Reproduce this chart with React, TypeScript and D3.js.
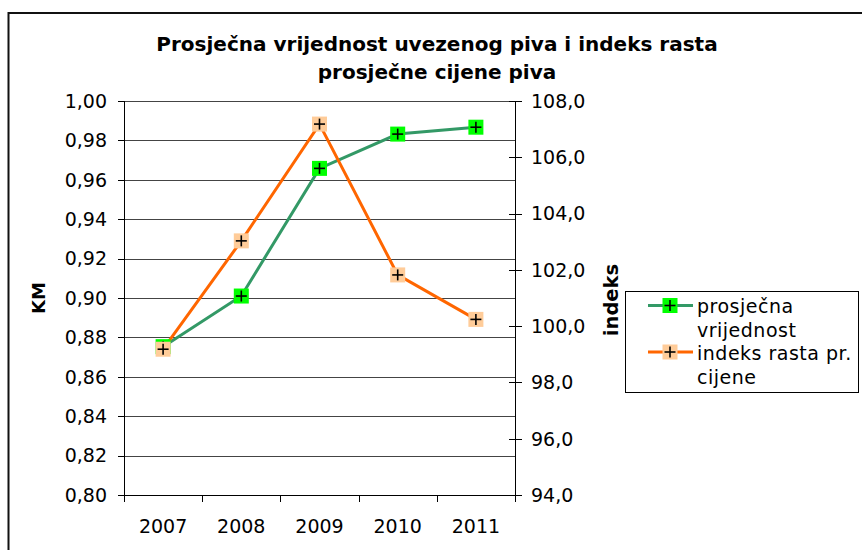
import React from "react";
import * as d3 from "d3";

const years = ["2007", "2008", "2009", "2010", "2011"];
const prosjecnaVrijednost = [0.8753, 0.901, 0.9658, 0.9832, 0.9867];
const indeksRasta = [99.18, 103.03, 107.18, 101.82, 100.24];
const leftTicks = [0.8, 0.82, 0.84, 0.86, 0.88, 0.9, 0.92, 0.94, 0.96, 0.98, 1.0];
const rightTicks = [94, 96, 98, 100, 102, 104, 106, 108];
const titleLines = ["Prosječna vrijednost uvezenog piva i indeks rasta", "prosječne cijene piva"];
const legendItems = [
  { lines: ["prosječna", "vrijednost"], stroke: "#339966", fill: "#00ff00" },
  { lines: ["indeks rasta pr.", "cijene"], stroke: "#ff6600", fill: "#ffcc99" },
];

const W = 862;
const H = 550;
const plot = { left: 124, right: 515, top: 101, bottom: 495 };
const FONT = "'DejaVu Sans', Verdana, sans-serif";

function Marker({ x, y, fill }: { x: number; y: number; fill: string }) {
  const s = 7.5;
  return (
    <g>
      <rect x={x - s} y={y - s} width={2 * s} height={2 * s} fill={fill} />
      <line x1={x - 5.5} x2={x + 5.5} y1={y} y2={y} stroke="#000" strokeWidth={1.6} />
      <line x1={x} x2={x} y1={y - 5.5} y2={y + 5.5} stroke="#000" strokeWidth={1.6} />
    </g>
  );
}

export default function App() {
  const x = d3.scaleBand<string>().domain(years).range([plot.left, plot.right]);
  const yL = d3.scaleLinear().domain([0.8, 1.0]).range([plot.bottom, plot.top]);
  const yR = d3.scaleLinear().domain([94, 108]).range([plot.bottom, plot.top]);
  const cx = (d: string) => (x(d) as number) + x.bandwidth() / 2;
  const fmtL = (v: number) => d3.format(".2f")(v).replace(".", ",");
  const fmtR = (v: number) => d3.format(".1f")(v).replace(".", ",");
  const px = (v: number) => Math.round(v) + 0.5;

  const lineL = d3
    .line<number>()
    .x((_, i) => cx(years[i]))
    .y((v) => yL(v));
  const lineR = d3
    .line<number>()
    .x((_, i) => cx(years[i]))
    .y((v) => yR(v));

  const boundaries = years.map((d) => x(d) as number).concat([plot.right]);

  return (
    <svg width={W} height={H} style={{ position: "absolute", left: 0, top: 0 }} fontFamily={FONT}>
      <rect x={0} y={0} width={W} height={H} fill="#fff" />
      <rect x={8.5} y={13} width={W + 20} height={H + 20} fill="#fff" stroke="#111" strokeWidth={2} />
      {titleLines.map((t, i) => (
        <text key={i} x={437} y={51 + i * 28} textAnchor="middle" fontSize={20} fontWeight="bold" fill="#000">
          {t}
        </text>
      ))}
      {/* gridlines */}
      {leftTicks.map((v) => (
        <line key={"g" + v} x1={plot.left} x2={plot.right} y1={px(yL(v))} y2={px(yL(v))} stroke={v === 0.8 ? "#000" : "#444"} strokeWidth={1} />
      ))}
      {/* left axis */}
      <line x1={plot.left + 0.5} x2={plot.left + 0.5} y1={plot.top} y2={plot.bottom + 7} stroke="#000" />
      {leftTicks.map((v) => (
        <g key={"l" + v}>
          <line x1={plot.left - 6} x2={plot.left} y1={px(yL(v))} y2={px(yL(v))} stroke="#000" />
          <text x={107} y={yL(v)} dy="0.36em" textAnchor="end" fontSize={19} fill="#000">
            {fmtL(v)}
          </text>
        </g>
      ))}
      {/* right axis */}
      <line x1={plot.right + 0.5} x2={plot.right + 0.5} y1={plot.top} y2={plot.bottom + 7} stroke="#000" />
      {rightTicks.map((v) => (
        <g key={"r" + v}>
          <line x1={plot.right - 6} x2={plot.right + 7} y1={px(yR(v))} y2={px(yR(v))} stroke="#000" />
          <text x={531} y={yR(v)} dy="0.36em" textAnchor="start" fontSize={19} fill="#000">
            {fmtR(v)}
          </text>
        </g>
      ))}
      {/* x axis */}
      <line x1={plot.left} x2={plot.right} y1={plot.bottom + 0.5} y2={plot.bottom + 0.5} stroke="#000" />
      {boundaries.map((b, i) => (
        <line key={"xt" + i} x1={px(b)} x2={px(b)} y1={plot.bottom} y2={plot.bottom + 7} stroke="#000" />
      ))}
      {years.map((d) => (
        <text key={"x" + d} x={cx(d)} y={533} textAnchor="middle" fontSize={19} fill="#000">
          {d}
        </text>
      ))}
      {/* axis titles */}
      <text transform={`translate(45,${(plot.top + plot.bottom) / 2}) rotate(-90)`} textAnchor="middle" fontSize={18} fontWeight="bold">
        KM
      </text>
      <text transform={`translate(618,${(plot.top + plot.bottom) / 2 + 2}) rotate(-90)`} textAnchor="middle" fontSize={19.5} fontWeight="bold">
        indeks
      </text>
      {/* series */}
      <path d={lineL(prosjecnaVrijednost) as string} fill="none" stroke="#339966" strokeWidth={3} />
      <path d={lineR(indeksRasta) as string} fill="none" stroke="#ff6600" strokeWidth={3} />
      {prosjecnaVrijednost.map((v, i) => (
        <Marker key={"m1" + i} x={cx(years[i])} y={yL(v)} fill="#00ff00" />
      ))}
      {indeksRasta.map((v, i) => (
        <Marker key={"m2" + i} x={cx(years[i])} y={yR(v)} fill="#ffcc99" />
      ))}
      {/* legend */}
      <rect x={625.5} y={291.5} width={233} height={101} fill="#fff" stroke="#000" />
      {legendItems.map((it, i) => {
        const ly = 305.5 + i * 46.5;
        return (
          <g key={"lg" + i}>
            <line x1={648} x2={693} y1={ly} y2={ly} stroke={it.stroke} strokeWidth={3} />
            <Marker x={670} y={ly} fill={it.fill} />
            {it.lines.map((t, j) => (
              <text key={j} x={697} y={ly + 7.5 + j * 24} fontSize={19} letterSpacing={0.5} fill="#000">
                {t}
              </text>
            ))}
          </g>
        );
      })}
    </svg>
  );
}
